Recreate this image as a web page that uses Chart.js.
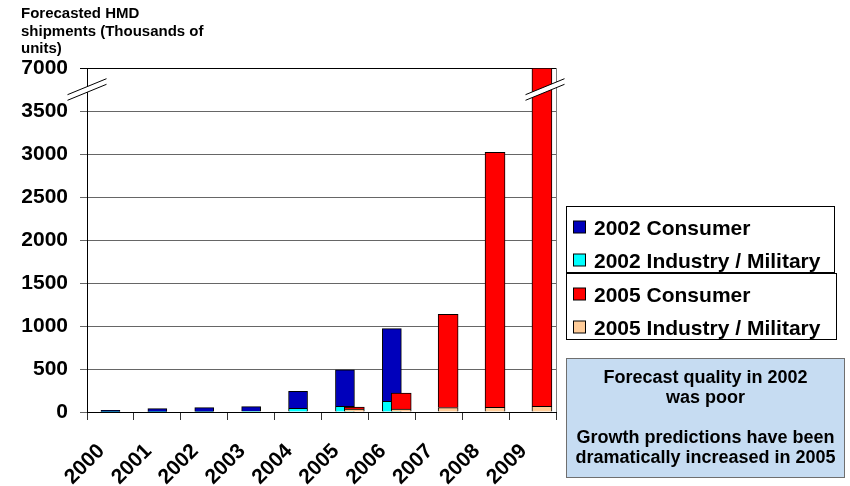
<!DOCTYPE html>
<html lang="en">
<head>
<meta charset="UTF-8">
<title>Forecasted HMD shipments</title>
<style>
  html, body { margin: 0; padding: 0; background: #fff; }
</style>
</head>
<body>
<canvas id="myChart" width="850" height="486"></canvas>

<script src="https://cdn.jsdelivr.net/npm/chart.js"></script>
<script>
// forecast data, thousands of units
const years = ['2000', '2001', '2002', '2003', '2004', '2005', '2006', '2007', '2008', '2009'];
const consumer2002 = [17, 37, 46, 51, 197, 424, 846, null, null, null];
const industry2002 = [3, 3, 5, 12, 43, 66, 124, null, null, null];
const consumer2005 = [null, null, null, null, null, 23, 186, 1085, 2965, 6934];
const industry2005 = [null, null, null, null, null, 35, 35, 51, 55, 66];
const yTicks = [0, 500, 1000, 1500, 2000, 2500, 3000, 3500, 7000];
const yTitle = ['Forecasted HMD', 'shipments (Thousands of', 'units)'];
const notes = ['Forecast quality in 2002', 'was poor', '', 'Growth predictions have been', 'dramatically increased in 2005'];

const FONT = '"Liberation Sans", Arial, sans-serif';
Chart.defaults.font.family = FONT;
Chart.defaults.color = '#000';

// y axis with a break: everything above 3500 is squeezed into one 500-step
const BREAK_FROM = 3500, BREAK_TO = 7000, STEP = 500;
class BrokenScale extends Chart.LinearScale {
    getPixelForValue(value) {
        if (value > BREAK_FROM) {
            value = BREAK_FROM + (value - BREAK_FROM) * STEP / (BREAK_TO - BREAK_FROM);
        }
        return super.getPixelForValue(value);
    }
}
BrokenScale.id = 'broken';
BrokenScale.defaults = {};
Chart.register(BrokenScale);

// the 2005 bars sit a little to the right of the 2002 ones
const SHIFT_2005 = 0.2;
const asPoints = arr => arr.map((v, i) => ({ x: i, y: v }));

function drawBreak(ctx, cx, cy) {
    const hx = 19.5, hy = 8, gap = 2.8;
    ctx.save();
    ctx.fillStyle = '#fff';
    ctx.beginPath();
    ctx.moveTo(cx - hx, cy + hy - gap);
    ctx.lineTo(cx + hx, cy - hy - gap);
    ctx.lineTo(cx + hx, cy - hy + gap);
    ctx.lineTo(cx - hx, cy + hy + gap);
    ctx.closePath();
    ctx.fill();
    ctx.strokeStyle = '#000';
    ctx.lineWidth = 1;
    ctx.beginPath();
    ctx.moveTo(cx - hx, cy + hy - gap);
    ctx.lineTo(cx + hx, cy - hy - gap);
    ctx.moveTo(cx - hx, cy + hy + gap);
    ctx.lineTo(cx + hx, cy - hy + gap);
    ctx.stroke();
    ctx.restore();
}

const extras = {
    id: 'extras',
    afterDraw(chart) {
        const ctx = chart.ctx;
        const area = chart.chartArea;
        const y = chart.scales.y;

        // right edge of the plot
        ctx.save();
        ctx.strokeStyle = '#808080';
        ctx.lineWidth = 1;
        ctx.beginPath();
        ctx.moveTo(area.right + 0.5, area.top);
        ctx.lineTo(area.right + 0.5, area.bottom);
        ctx.stroke();

        // axis title, top left
        ctx.fillStyle = '#000';
        ctx.font = 'bold 15px ' + FONT;
        ctx.textAlign = 'left';
        ctx.textBaseline = 'alphabetic';
        yTitle.forEach((line, i) => ctx.fillText(line, 21, 18 + i * 17.5));
        ctx.restore();

        // axis break marks
        const cy = (y.getPixelForValue(BREAK_FROM) + y.getPixelForValue(BREAK_TO)) / 2;
        drawBreak(ctx, area.left, cy);
        drawBreak(ctx, area.right - 11, cy);

        // legend, one box per forecast year
        const groups = [[1, 0], [3, 2]];
        const boxes = [{ x: 566.5, y: 206.5, w: 268, h: 66 }, { x: 566.5, y: 273.5, w: 270, h: 66 }];
        ctx.save();
        ctx.font = 'bold 21px ' + FONT;
        ctx.textAlign = 'left';
        ctx.textBaseline = 'alphabetic';
        groups.forEach((g, gi) => {
            const b = boxes[gi];
            ctx.strokeStyle = '#000';
            ctx.lineWidth = 1;
            ctx.strokeRect(b.x, b.y, b.w, b.h);
            g.forEach((di, row) => {
                const ds = chart.data.datasets[di];
                const cyRow = b.y + 20.5 + row * 33;
                ctx.fillStyle = ds.backgroundColor;
                ctx.fillRect(573.5, cyRow - 6, 12, 12);
                ctx.strokeRect(573.5, cyRow - 6, 12, 12);
                ctx.fillStyle = '#000';
                ctx.fillText(ds.label, 594, cyRow + 7.5);
            });
        });
        ctx.restore();

        // note box
        ctx.save();
        ctx.fillStyle = '#c6dcf2';
        ctx.fillRect(566.5, 358.5, 278, 119);
        ctx.strokeStyle = '#6f6f6f';
        ctx.lineWidth = 1;
        ctx.strokeRect(566.5, 358.5, 278, 119);
        ctx.fillStyle = '#000';
        ctx.font = 'bold 18px ' + FONT;
        ctx.textAlign = 'center';
        ctx.textBaseline = 'alphabetic';
        notes.forEach((line, i) => ctx.fillText(line, 705.5, 383 + i * 20));
        ctx.restore();
    }
};

const tickFont = { family: FONT, size: 21, weight: 'bold' };

const chart = new Chart(document.getElementById('myChart'), {
    type: 'bar',
    data: {
        labels: years,
        datasets: [
            {
                label: '2002 Industry / Military',
                data: industry2002,
                backgroundColor: '#00ffff',
                stack: 's2002',
                barThickness: 19,
                order: 1
            },
            {
                label: '2002 Consumer',
                data: consumer2002,
                backgroundColor: '#0000bb',
                stack: 's2002',
                barThickness: 19,
                order: 1
            },
            {
                label: '2005 Industry / Military',
                data: asPoints(industry2005),
                backgroundColor: '#ffcc99',
                stack: 's2005',
                xAxisID: 'x2',
                barThickness: 20,
                order: 0
            },
            {
                label: '2005 Consumer',
                data: asPoints(consumer2005),
                backgroundColor: '#ff0000',
                stack: 's2005',
                xAxisID: 'x2',
                barThickness: 20,
                order: 0
            }
        ]
    },
    options: {
        responsive: false,
        animation: false,
        events: [],
        datasets: {
            bar: { borderColor: '#000', borderWidth: 1, grouped: false }
        },
        layout: {
            padding: { left: 0, top: 68, right: 294, bottom: 0 }
        },
        plugins: {
            legend: { display: false },
            tooltip: { enabled: false },
            title: { display: false }
        },
        scales: {
            x: {
                grid: { offset: true, drawOnChartArea: false, tickLength: 8, color: '#333' },
                border: { color: '#000' },
                ticks: {
                    color: '#000',
                    font: tickFont,
                    minRotation: 45,
                    maxRotation: 45,
                    autoSkip: false,
                    padding: 19,
                    labelOffset: -9
                },
                afterFit: s => { s.height = 74; }
            },
            x2: {
                type: 'linear',
                display: false,
                offset: false,
                min: -0.5 - SHIFT_2005,
                max: years.length - 0.5 - SHIFT_2005
            },
            y: {
                type: 'broken',
                min: 0,
                max: BREAK_FROM + STEP,
                stacked: true,
                afterBuildTicks: s => { s.ticks = yTicks.map(v => ({ value: v })); },
                ticks: {
                    stepSize: STEP,
                    padding: 12,
                    color: '#000',
                    font: tickFont,
                    callback: v => String(v)
                },
                grid: {
                    color: c => (c.tick && c.tick.value === BREAK_TO) ? '#000' : '#666',
                    tickLength: 7
                },
                border: { color: '#000' },
                afterFit: s => { s.width = 87; }
            }
        }
    },
    plugins: [extras]
});
</script>
</body>
</html>
